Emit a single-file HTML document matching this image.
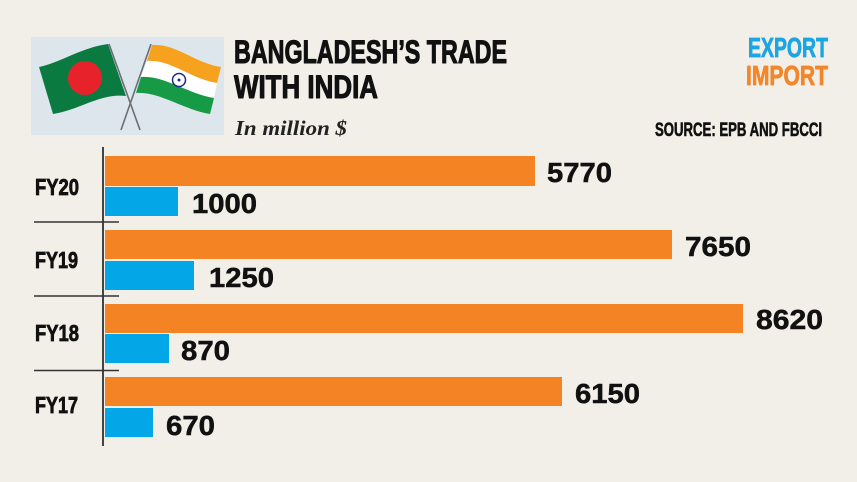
<!DOCTYPE html>
<html>
<head>
<meta charset="utf-8">
<style>
html,body{margin:0;padding:0;background:#f2eee8;}
svg{display:block;}
text{font-family:"Liberation Sans",sans-serif;}
</style>
</head>
<body>
<svg width="857" height="482" viewBox="0 0 857 482" xmlns="http://www.w3.org/2000/svg">
<rect x="0" y="0" width="857" height="482" fill="#f2eee8"/>

<!-- flag box -->
<rect x="31" y="37" width="193" height="98" fill="#dde6ec"/>
<!-- poles -->
<line x1="109" y1="44" x2="140" y2="130" stroke="#6b6f74" stroke-width="1.6"/>
<line x1="151" y1="44" x2="121" y2="130" stroke="#6b6f74" stroke-width="1.6"/>
<!-- Bangladesh flag -->
<path d="M39,67 C62,62 80,48 108,44 L126,96 C100,93 80,110 53,114 Z" fill="#0b7a40"/>
<circle cx="85" cy="78" r="17" fill="#e8222b"/>
<!-- India flag -->
<path d="M152,45 C175,43 195,63 221,67 L217,83 C191,79 170,59 147,61 Z" fill="#f7a21f"/>
<path d="M147,61 C170,59 191,79 217,83 L214,98 C188,94 164,75 141,77 Z" fill="#ffffff"/>
<path d="M141,77 C164,75 188,94 214,98 L210,114 C184,110 159,91 136,93 Z" fill="#179a45"/>
<circle cx="179" cy="80" r="6.5" fill="none" stroke="#1c2a85" stroke-width="1.5"/>
<circle cx="179" cy="80" r="1.5" fill="#1c2a85"/>

<!-- title -->
<g stroke="#111" stroke-width="1.1" stroke-linejoin="round">
<text x="234" y="63" font-size="32" font-weight="bold" fill="#111" textLength="273" lengthAdjust="spacingAndGlyphs">BANGLADESH’S TRADE</text>
<text x="234" y="98" font-size="32" font-weight="bold" fill="#111" textLength="144" lengthAdjust="spacingAndGlyphs">WITH INDIA</text>
</g>
<text x="235" y="135" font-size="21" font-weight="bold" font-style="italic" fill="#222" style="font-family:'Liberation Serif',serif" textLength="112" lengthAdjust="spacingAndGlyphs">In million $</text>

<!-- legend -->
<text x="748" y="57" font-size="28" font-weight="bold" fill="#1ba6e2" stroke="#1ba6e2" stroke-width="0.8" textLength="80" lengthAdjust="spacingAndGlyphs">EXPORT</text>
<text x="746" y="85" font-size="28" font-weight="bold" fill="#f4862a" stroke="#f4862a" stroke-width="0.8" textLength="82" lengthAdjust="spacingAndGlyphs">IMPORT</text>
<text x="655" y="136" font-size="19" font-weight="bold" fill="#111" stroke="#111" stroke-width="0.6" textLength="167" lengthAdjust="spacingAndGlyphs">SOURCE: EPB AND FBCCI</text>

<!-- axis -->
<line x1="103" y1="147" x2="103" y2="446" stroke="#444" stroke-width="2"/>
<line x1="34" y1="222" x2="119" y2="222" stroke="#333" stroke-width="1.5"/>
<line x1="34" y1="296" x2="119" y2="296" stroke="#333" stroke-width="1.5"/>
<line x1="34" y1="370.5" x2="119" y2="370.5" stroke="#333" stroke-width="1.5"/>

<!-- category labels -->
<g font-size="23" font-weight="bold" fill="#111" stroke="#111" stroke-width="0.8">
<text x="35" y="195" textLength="44" lengthAdjust="spacingAndGlyphs">FY20</text>
<text x="35" y="268" textLength="43" lengthAdjust="spacingAndGlyphs">FY19</text>
<text x="35" y="341" textLength="44" lengthAdjust="spacingAndGlyphs">FY18</text>
<text x="35" y="413" textLength="43" lengthAdjust="spacingAndGlyphs">FY17</text>
</g>

<!-- bars -->
<g fill="#f48324">
<rect x="105" y="156" width="430" height="30"/>
<rect x="105" y="230" width="567" height="29"/>
<rect x="105" y="304" width="638" height="29"/>
<rect x="105" y="377" width="457" height="29"/>
</g>
<g fill="#03a7e7">
<rect x="105" y="187" width="73" height="29"/>
<rect x="105" y="261" width="89" height="29"/>
<rect x="105" y="334" width="64" height="29"/>
<rect x="105" y="408" width="48" height="29"/>
</g>

<!-- values -->
<g font-size="28" font-weight="bold" fill="#111" stroke="#111" stroke-width="0.5">
<text x="547" y="182" textLength="65" lengthAdjust="spacingAndGlyphs">5770</text>
<text x="192" y="213" textLength="65" lengthAdjust="spacingAndGlyphs">1000</text>
<text x="685" y="256" textLength="66" lengthAdjust="spacingAndGlyphs">7650</text>
<text x="209" y="287" textLength="65" lengthAdjust="spacingAndGlyphs">1250</text>
<text x="756" y="329" textLength="67" lengthAdjust="spacingAndGlyphs">8620</text>
<text x="181" y="360" textLength="49" lengthAdjust="spacingAndGlyphs">870</text>
<text x="575" y="403" textLength="65" lengthAdjust="spacingAndGlyphs">6150</text>
<text x="166" y="435" textLength="49" lengthAdjust="spacingAndGlyphs">670</text>
</g>
</svg>
</body>
</html>
